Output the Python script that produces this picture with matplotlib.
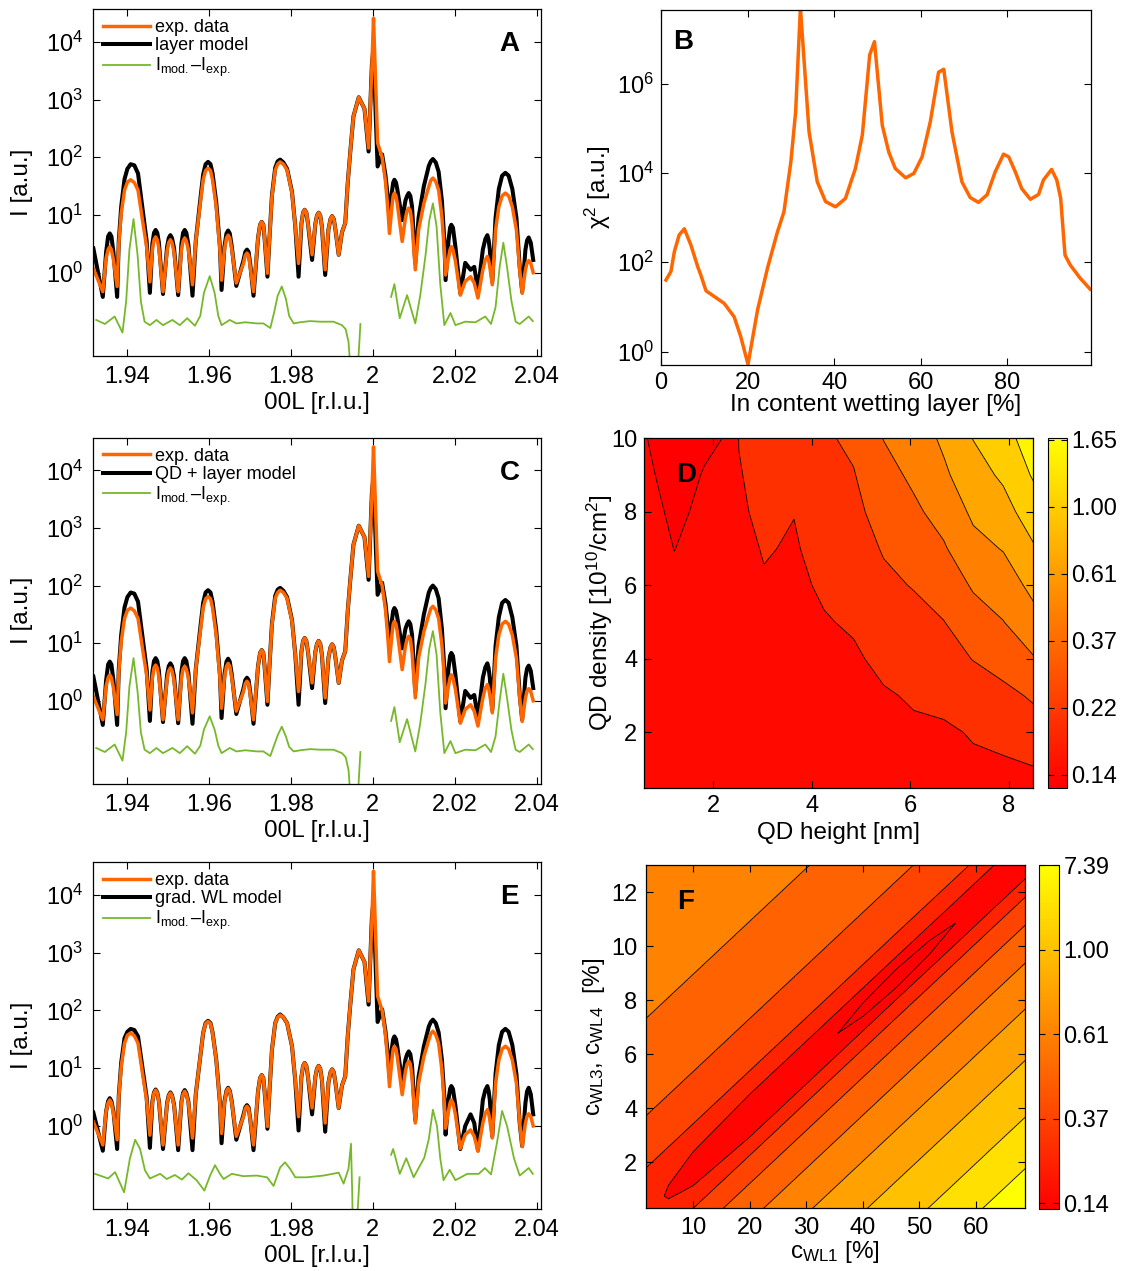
import matplotlib
matplotlib.use('Agg')
from matplotlib import pyplot as plt
from matplotlib import cm
from matplotlib.colors import Normalize
import numpy as np

plt.rcParams['font.family'] = ['Liberation Sans', 'DejaVu Sans']
plt.rcParams['mathtext.fontset'] = 'custom'
plt.rcParams['mathtext.rm'] = 'Liberation Sans'
plt.rcParams['mathtext.it'] = 'Liberation Sans:italic'
plt.rcParams['mathtext.bf'] = 'Liberation Sans:bold'
plt.rcParams['font.size'] = 17

ORANGE = '#ff6600'
GREEN = '#77b82a'
TICK_FS = 17
LABEL_FS = 17.5
nan = np.nan

# ---- 00L scans: log10 of intensity ----
l_scan = [1.9318, 1.9341, 1.9349, 1.9354, 1.9358, 1.9362, 1.9367, 1.9376, 1.9380, 1.9386,
          1.9394, 1.9401, 1.9409, 1.9418, 1.9427, 1.9439, 1.9448, 1.9456, 1.9462, 1.9466,
          1.9470, 1.9474, 1.9478, 1.9488, 1.9498, 1.9502, 1.9506, 1.9510, 1.9515, 1.9525,
          1.9533, 1.9537, 1.9541, 1.9545, 1.9550, 1.9560, 1.9568, 1.9578, 1.9586, 1.9592,
          1.9598, 1.9604, 1.9609, 1.9618, 1.9627, 1.9631, 1.9638, 1.9643, 1.9647, 1.9651,
          1.9656, 1.9667, 1.9684, 1.9689, 1.9693, 1.9697, 1.9701, 1.9709, 1.9720, 1.9725,
          1.9729, 1.9733, 1.9736, 1.9743, 1.9748, 1.9754, 1.9762, 1.9768, 1.9774, 1.9782,
          1.9791, 1.9803, 1.9811, 1.9819, 1.9826, 1.9830, 1.9834, 1.9838, 1.9842, 1.9852,
          1.9860, 1.9864, 1.9868, 1.9872, 1.9876, 1.9884, 1.9892, 1.9897, 1.9901, 1.9905,
          1.9909, 1.9917, 1.9925, 1.9933, 1.9939, 1.9945, 1.9953, 1.9966, 1.9980, 1.9990,
          1.9998, 2.0002, 2.0008, 2.0012, 2.0023, 2.0031, 2.0037, 2.0041, 2.0047, 2.0050,
          2.0053, 2.0057, 2.0060, 2.0072, 2.0080, 2.0084, 2.0088, 2.0092, 2.0096, 2.0104,
          2.0112, 2.0125, 2.0137, 2.0142, 2.0147, 2.0154, 2.0161, 2.0169, 2.0175, 2.0178,
          2.0185, 2.0189, 2.0192, 2.0196, 2.0202, 2.0214, 2.0226, 2.0239, 2.0248, 2.0257,
          2.0269, 2.0275, 2.0280, 2.0283, 2.0286, 2.0292, 2.0300, 2.0308, 2.0316, 2.0324,
          2.0332, 2.0341, 2.0351, 2.0359, 2.0365, 2.0373, 2.0377, 2.0381, 2.0386, 2.0392]

exp_log = [0.07, -0.33, 0.25, 0.40, 0.45, 0.40, 0.22, -0.24, 0.50, 1.03,
           1.43, 1.57, 1.61, 1.56, 1.43, 0.86, 0.45, -0.16, 0.40, 0.57,
           0.62, 0.57, 0.42, -0.33, 0.38, 0.52, 0.57, 0.52, 0.35, -0.33,
           0.40, 0.55, 0.60, 0.55, 0.40, -0.21, 0.55, 1.14, 1.61, 1.77,
           1.81, 1.77, 1.61, 1.14, 0.39, -0.13, 0.40, 0.60, 0.65, 0.60,
           0.40, -0.18, 0.15, 0.30, 0.34, 0.30, 0.10, -0.33, 0.60, 0.83,
           0.88, 0.83, 0.60, -0.01, 0.60, 1.32, 1.78, 1.88, 1.92, 1.88,
           1.78, 1.38, 0.80, 0.16, 0.85, 1.04, 1.09, 1.04, 0.85, 0.31,
           0.85, 0.99, 1.04, 0.99, 0.80, 0.05, 0.75, 0.93, 0.98, 0.93,
           0.75, 0.31, 0.70, 0.86, 1.55, 2.07, 2.71, 3.04, 2.84, 2.16,
           3.57, 4.41, 3.11, 2.25, 2.00, 1.60, 1.10, 0.68, 1.15, 1.33,
           1.38, 1.33, 1.20, 0.54, 0.95, 1.07, 1.12, 1.07, 0.85, 0.05,
           0.74, 1.20, 1.49, 1.60, 1.64, 1.58, 1.43, 0.97, 0.39, -0.04,
           0.25, 0.40, 0.45, 0.40, 0.20, -0.39, -0.15, -0.07, -0.18, -0.44,
           0.05, 0.22, 0.28, 0.22, 0.10, -0.21, 0.74, 1.14, 1.33, 1.38,
           1.33, 1.14, 0.74, 0.05, -0.36, 0.05, 0.17, 0.21, 0.16, 0.00]

layer_log = [0.42, -0.42, 0.35, 0.63, 0.68, 0.63, 0.35, -0.42, 0.55, 1.15,
             1.62, 1.80, 1.88, 1.86, 1.72, 1.05, 0.55, -0.35, 0.50, 0.69,
             0.74, 0.69, 0.52, -0.37, 0.45, 0.60, 0.65, 0.60, 0.42, -0.39,
             0.50, 0.69, 0.74, 0.69, 0.48, -0.40, 0.55, 1.20, 1.70, 1.88,
             1.92, 1.88, 1.72, 1.22, 0.45, -0.30, 0.45, 0.68, 0.73, 0.68,
             0.45, -0.23, 0.20, 0.36, 0.40, 0.36, 0.15, -0.40, 0.60, 0.83,
             0.88, 0.83, 0.60, -0.07, 0.60, 1.34, 1.82, 1.93, 1.96, 1.91,
             1.80, 1.40, 0.80, -0.07, 0.85, 1.04, 1.09, 1.04, 0.85, 0.22,
             0.85, 0.99, 1.04, 0.99, 0.80, -0.04, 0.75, 0.93, 0.98, 0.93,
             0.75, 0.31, 0.70, 0.86, 1.55, 2.07, 2.71, 3.04, 2.84, 2.10,
             3.60, 3.90, 2.60, 1.84, 2.05, 1.70, 1.30, 0.94, 1.40, 1.56,
             1.61, 1.56, 1.45, 0.91, 1.25, 1.33, 1.38, 1.33, 1.15, 0.16,
             0.95, 1.50, 1.85, 1.93, 1.97, 1.91, 1.75, 1.25, 0.55, -0.13,
             0.55, 0.78, 0.83, 0.78, 0.45, -0.36, 0.17, 0.05, 0.10, -0.30,
             0.40, 0.58, 0.65, 0.57, 0.40, -0.16, 0.95, 1.45, 1.68, 1.73,
             1.68, 1.45, 0.95, 0.10, -0.33, 0.40, 0.56, 0.61, 0.52, 0.22]

qd_layer_log = [0.42, -0.42, 0.35, 0.63, 0.68, 0.63, 0.35, -0.42, 0.55, 1.15,
                1.62, 1.80, 1.88, 1.86, 1.72, 1.05, 0.55, -0.35, 0.50, 0.69,
                0.74, 0.69, 0.52, -0.37, 0.45, 0.60, 0.65, 0.60, 0.42, -0.39,
                0.50, 0.69, 0.74, 0.69, 0.48, -0.40, 0.55, 1.20, 1.70, 1.88,
                1.92, 1.88, 1.72, 1.22, 0.45, -0.30, 0.45, 0.68, 0.73, 0.68,
                0.45, -0.23, 0.20, 0.36, 0.40, 0.36, 0.15, -0.40, 0.60, 0.83,
                0.88, 0.83, 0.60, -0.07, 0.60, 1.34, 1.82, 1.93, 1.96, 1.91,
                1.80, 1.40, 0.80, -0.07, 0.85, 1.04, 1.09, 1.04, 0.85, 0.22,
                0.85, 0.99, 1.04, 0.99, 0.80, -0.04, 0.75, 0.93, 0.98, 0.93,
                0.75, 0.31, 0.70, 0.86, 1.55, 2.07, 2.71, 3.04, 2.84, 2.10,
                3.60, 3.90, 2.60, 1.84, 2.05, 1.70, 1.30, 0.94, 1.40, 1.56,
                1.61, 1.56, 1.45, 0.91, 1.25, 1.33, 1.38, 1.33, 1.15, 0.16,
                0.95, 1.50, 1.88, 1.96, 2.00, 1.94, 1.78, 1.25, 0.55, -0.13,
                0.55, 0.78, 0.83, 0.78, 0.45, -0.36, 0.17, 0.05, 0.10, -0.30,
                0.40, 0.58, 0.65, 0.57, 0.40, -0.16, 0.95, 1.45, 1.70, 1.75,
                1.70, 1.45, 0.95, 0.10, -0.33, 0.40, 0.56, 0.61, 0.52, 0.22]

grad_wl_log = [0.23, -0.43, 0.25, 0.43, 0.48, 0.43, 0.25, -0.40, 0.52, 1.10,
               1.52, 1.63, 1.68, 1.66, 1.55, 0.95, 0.50, -0.38, 0.42, 0.58,
               0.63, 0.58, 0.43, -0.40, 0.40, 0.53, 0.58, 0.53, 0.37, -0.42,
               0.42, 0.57, 0.62, 0.57, 0.42, -0.42, 0.55, 1.14, 1.61, 1.78,
               1.82, 1.78, 1.62, 1.15, 0.40, -0.30, 0.42, 0.61, 0.66, 0.61,
               0.42, -0.24, 0.18, 0.32, 0.36, 0.32, 0.12, -0.42, 0.60, 0.83,
               0.88, 0.83, 0.60, -0.05, 0.60, 1.32, 1.78, 1.89, 1.93, 1.88,
               1.78, 1.38, 0.78, -0.08, 0.85, 1.04, 1.09, 1.04, 0.85, 0.20,
               0.85, 0.99, 1.04, 0.99, 0.80, -0.10, 0.75, 0.93, 0.98, 0.93,
               0.75, 0.31, 0.70, 0.86, 1.55, 2.07, 2.71, 3.04, 2.84, 2.10,
               3.60, 3.90, 2.60, 1.80, 2.02, 1.65, 1.25, 0.85, 1.35, 1.50,
               1.55, 1.50, 1.38, 0.75, 1.15, 1.24, 1.29, 1.24, 1.05, 0.10,
               0.85, 1.38, 1.72, 1.80, 1.84, 1.78, 1.62, 1.15, 0.50, -0.15,
               0.45, 0.64, 0.69, 0.64, 0.35, -0.40, 0.00, 0.20, 0.05, -0.42,
               0.45, 0.62, 0.69, 0.61, 0.45, -0.18, 0.90, 1.40, 1.63, 1.68,
               1.63, 1.40, 0.90, 0.05, -0.35, 0.40, 0.60, 0.66, 0.55, 0.20]

# I_mod - I_exp (log10, nan where the difference is negative)
diff_l = [1.9325, 1.9346, 1.9370, 1.9389, 1.9398, 1.9406, 1.9416, 1.9426, 1.9434, 1.9443,
          1.9456, 1.9472, 1.9488, 1.9511, 1.9529, 1.9547, 1.9566, 1.9579, 1.9588, 1.9602,
          1.9614, 1.9623, 1.9631, 1.9651, 1.9667, 1.9689, 1.9717, 1.9733, 1.9750, 1.9759,
          1.9768, 1.9778, 1.9788, 1.9796, 1.9807, 1.9823, 1.9847, 1.9872, 1.9904, 1.9925,
          1.9934, 1.9941, 1.9949, 1.9955, 1.9961, 1.9970, 2.0000, 2.0045, 2.0053, 2.0066,
          2.0084, 2.0104, 2.0116, 2.0129, 2.0138, 2.0147, 2.0156, 2.0165, 2.0175, 2.0190,
          2.0202, 2.0226, 2.0251, 2.0275, 2.0289, 2.0300, 2.0310, 2.0319, 2.0328, 2.0339,
          2.0349, 2.0359, 2.0381, 2.0391]

diff_layer_log = [-0.82, -0.89, -0.76, -1.04, -0.50, 0.40, 0.93, 0.30, -0.50, -0.85,
                  -0.91, -0.82, -0.91, -0.82, -0.91, -0.79, -0.92, -0.75, -0.35, -0.06,
                  -0.35, -0.75, -0.91, -0.82, -0.88, -0.86, -0.88, -0.88, -0.96, -0.70,
                  -0.40, -0.24, -0.45, -0.75, -0.88, -0.86, -0.84, -0.85, -0.85, -0.91,
                  -0.98, -1.20, -2.0, nan, -2.0, -0.89, nan, -0.42, -0.20, -0.79,
                  -0.39, -0.88, -0.40, 0.30, 0.90, 1.20, 0.80, -0.20, -0.91, -0.70,
                  -0.91, -0.85, -0.86, -0.76, -0.89, -0.60, 0.10, 0.52, 0.10, -0.50,
                  -0.85, -0.89, -0.76, -0.84]

diff_qd_log = [-0.82, -0.89, -0.76, -1.04, -0.55, 0.25, 0.74, 0.15, -0.55, -0.85,
               -0.91, -0.82, -0.91, -0.82, -0.91, -0.79, -0.92, -0.78, -0.50, -0.27,
               -0.50, -0.78, -0.91, -0.82, -0.88, -0.86, -0.88, -0.88, -0.96, -0.78,
               -0.60, -0.45, -0.62, -0.80, -0.88, -0.86, -0.84, -0.85, -0.85, -0.91,
               -0.98, -1.20, -2.0, nan, -2.0, -0.89, nan, -0.35, -0.11, -0.72,
               -0.32, -0.88, -0.40, 0.30, 0.90, 1.21, 0.80, -0.20, -0.91, -0.70,
               -0.91, -0.85, -0.86, -0.76, -0.89, -0.62, 0.00, 0.47, 0.05, -0.52,
               -0.85, -0.89, -0.76, -0.84]

diff_grad_l = [1.9322, 1.9354, 1.9371, 1.9393, 1.9407, 1.9420, 1.9432, 1.9444, 1.9456, 1.9481,
               1.9497, 1.9517, 1.9534, 1.9550, 1.9570, 1.9589, 1.9603, 1.9615, 1.9627, 1.9636,
               1.9656, 1.9684, 1.9717, 1.9742, 1.9758, 1.9774, 1.9786, 1.9799, 1.9811, 1.9839,
               1.9880, 1.9917, 1.9929, 1.9941, 1.9947, 1.9950, 1.9952, 1.9955, 1.9959, 1.9968,
               2.0000, 2.0045, 2.0050, 2.0066, 2.0082, 2.0100, 2.0126, 2.0137, 2.0147, 2.0157,
               2.0165, 2.0173, 2.0188, 2.0202, 2.0231, 2.0259, 2.0274, 2.0289, 2.0304, 2.0316,
               2.0328, 2.0345, 2.0359, 2.0381, 2.0391]

diff_grad_log = [-0.83, -0.91, -0.80, -1.15, -0.57, -0.24, -0.40, -0.77, -0.91, -0.83,
                 -0.92, -0.85, -0.93, -0.82, -0.94, -1.12, -0.86, -0.68, -0.83, -0.92,
                 -0.83, -0.87, -0.86, -0.89, -1.04, -0.72, -0.63, -0.75, -0.89, -0.89,
                 -0.86, -0.81, -1.00, -0.74, -0.31, -1.15, -2.0, nan, -2.0, -0.89,
                 nan, -0.50, -0.40, -0.83, -0.56, -0.89, -0.55, -0.23, 0.28, 0.00,
                 -0.56, -0.94, -0.76, -0.94, -0.83, -0.83, -0.73, -0.84, -0.27, 0.26,
                 0.00, -0.56, -0.86, -0.73, -0.83]

# ---- chi^2 versus In content of the wetting layer ----
in_content = [1.15, 2.3, 3.1, 4.2, 5.4, 6.9, 8.5, 9.2, 10.4, 14.6, 16.9, 18.4, 20.1, 22.3,
              24.6, 26.9, 28.4, 30.0, 31.1, 32.2, 34.2, 36.1, 38.0, 40.3, 42.6, 44.9, 46.5,
              48.2, 49.3, 51.1, 52.6, 54.1, 56.5, 58.4, 60.3, 62.2, 64.1, 65.3, 67.2, 68.4,
              69.5, 71.4, 73.3, 75.3, 77.2, 79.1, 80.3, 81.8, 83.3, 85.3, 87.2, 88.3, 90.2,
              91.4, 92.3, 93.3, 94.5, 96.8, 99.1]
chi2_in = [40, 62, 174, 407, 562, 245, 79, 52, 23, 12, 6.0, 2.2, 0.52, 8.5,
           74, 479, 1350, 1.78e4, 2.34e5, 5e7, 8.3e4, 6300, 2290, 1740, 2690, 1.26e4, 7.08e4,
           4.4e6, 8.7e6, 1.17e5, 2.95e4, 1.26e4, 7760, 9770, 2.29e4, 1.41e5, 1.8e6, 2.1e6, 8.3e4, 2.14e4,
           6300, 2820, 2190, 3240, 1.07e4, 2.63e4, 2.29e4, 1.07e4, 4470, 2570, 3310, 6920, 1.2e4,
           6920, 2690, 145, 87, 44, 25]

# ---- ln(chi^2) map over QD height / QD density ----
qd_height = [0.6, 1.21, 1.82, 2.42, 2.52, 3.03, 3.64, 4.25, 4.85, 5.46, 6.07, 6.68, 7.28, 7.89, 8.5]
qd_density = [0.5, 1, 2, 3, 4, 5, 6, 7, 8, 9, 10]
ln_chi2_qd = [  # one list per QD height, density from low to high
    [-1.75, -1.77, -1.80, -1.83, -1.85, -1.87, -1.88, -1.89, -1.92, -1.96, -1.99],
    [-1.70, -1.72, -1.76, -1.80, -1.85, -1.90, -1.96, -2.003, -2.04, -2.07, -2.09],
    [-1.74, -1.75, -1.78, -1.81, -1.84, -1.87, -1.90, -1.93, -1.96, -1.99, -2.03],
    [-1.71, -1.72, -1.75, -1.78, -1.81, -1.84, -1.87, -1.90, -1.92, -1.95, -1.98],
    [-1.71, -1.72, -1.74, -1.76, -1.78, -1.79, -1.77, -1.74, -1.70, -1.64, -1.58],
    [-1.74, -1.75, -1.76, -1.76, -1.74, -1.70, -1.64, -1.57, -1.45, -1.38, -1.32],
    [-1.79, -1.79, -1.79, -1.78, -1.76, -1.73, -1.69, -1.64, -1.59, -1.53, -1.45],
    [-1.80, -1.80, -1.78, -1.75, -1.70, -1.63, -1.54, -1.45, -1.38, -1.32, -1.25],
    [-1.82, -1.81, -1.78, -1.73, -1.66, -1.55, -1.45, -1.38, -1.30, -1.22, -1.13],
    [-1.80, -1.78, -1.72, -1.64, -1.50, -1.38, -1.28, -1.17, -1.04, -0.93, -0.79],
    [-1.78, -1.75, -1.66, -1.56, -1.44, -1.32, -1.18, -1.00, -0.87, -0.73, -0.62],
    [-1.77, -1.74, -1.66, -1.49, -1.33, -1.21, -1.02, -0.84, -0.66, -0.47, -0.33],
    [-1.71, -1.67, -1.57, -1.38, -1.19, -0.96, -0.76, -0.52, -0.33, -0.15, 0.01],
    [-1.70, -1.66, -1.50, -1.31, -1.03, -0.81, -0.60, -0.38, -0.14, 0.06, 0.32],
    [-1.68, -1.62, -1.38, -1.15, -0.83, -0.53, -0.30, -0.04, 0.20, 0.44, 0.51],
]
qd_levels = [-2.1, -2.0, -1.6, -1.2, -0.8, -0.4, 0.0, 0.4, 0.52]
qd_range = (-2.095, 0.51)

# ---- chi^2 map over c_WL1 / c_WL3,4 (sampled across the valley) ----
c_wl1 = [-2, 5, 10, 20, 30, 35.4, 46, 56.6, 63, 72]
valley_wl34 = [-0.59, 0.78, 1.76, 3.72, 5.68, 6.74, 8.82, 10.89, 12.15, 13.91]
offset_wl34 = [-16, -11.5, -9.6, -7.5, -5.6, -3.9, -2.5, -1.46, -0.78, -0.25, 0, 0.25, 0.8,
               1.67, 3.6, 7.2, 16]
chi2_wl = [  # one list per c_WL1 column, offset from low to high
    [1.30, 1.0, 0.875, 0.75, 0.625, 0.5, 0.375, 0.25, 0.21, 0.20, 0.19, 0.20, 0.21, 0.25, 0.375, 0.5, 0.59],
    [1.30, 1.0, 0.875, 0.75, 0.625, 0.5, 0.375, 0.25, 0.17, 0.13, 0.124, 0.13, 0.17, 0.25, 0.375, 0.5, 0.59],
    [1.30, 1.0, 0.875, 0.75, 0.625, 0.5, 0.375, 0.25, 0.14, 0.09, 0.07, 0.09, 0.14, 0.25, 0.375, 0.5, 0.59],
    [1.30, 1.0, 0.875, 0.75, 0.625, 0.5, 0.375, 0.25, 0.125, 0.06, 0.04, 0.06, 0.125, 0.25, 0.375, 0.5, 0.59],
    [1.30, 1.0, 0.875, 0.75, 0.625, 0.5, 0.375, 0.25, 0.125, 0.04, 0.02, 0.04, 0.125, 0.25, 0.375, 0.5, 0.59],
    [1.30, 1.0, 0.875, 0.75, 0.625, 0.5, 0.375, 0.25, 0.125, 0.02, 0.001, 0.02, 0.125, 0.25, 0.375, 0.5, 0.59],
    [1.30, 1.0, 0.875, 0.75, 0.625, 0.5, 0.375, 0.25, 0.125, -0.025, -0.05, -0.025, 0.125, 0.25, 0.375, 0.5, 0.59],
    [1.30, 1.0, 0.875, 0.75, 0.625, 0.5, 0.375, 0.25, 0.125, 0.02, 0.001, 0.02, 0.125, 0.25, 0.375, 0.5, 0.59],
    [1.30, 1.0, 0.875, 0.75, 0.625, 0.5, 0.375, 0.25, 0.125, 0.04, 0.02, 0.04, 0.125, 0.25, 0.375, 0.5, 0.59],
    [1.30, 1.0, 0.875, 0.75, 0.625, 0.5, 0.375, 0.25, 0.125, 0.05, 0.03, 0.05, 0.125, 0.25, 0.375, 0.5, 0.59],
]
wl_levels = [-0.06, 0, 0.125, 0.25, 0.375, 0.5, 0.625, 0.75, 0.875, 1.0, 1.35]
wl_range = (-0.018, 1.0)
wl_ticks = [0, 0.25, 0.5, 0.75, 1.0]
wl_tick_labels = ['0.14', '0.37', '0.61', '1.00', '7.39']


def box_ticks(ax, pad=5):
    ax.tick_params(direction='in', top=True, right=True, length=5, width=0.8,
                   which='major', labelsize=TICK_FS, pad=pad)
    ax.tick_params(which='minor', length=0)
    for s in ax.spines.values():
        s.set_linewidth(0.9)


def panel_letter(ax, letter, x, y):
    ax.text(x, y, letter, transform=ax.transAxes, fontsize=20, fontweight='bold',
            ha='center', va='center')


def xrd_panel(ax, model_log, model_label, dl, dlog, letter):
    L = np.array(l_scan)
    hm, = ax.plot(L, 10 ** np.array(model_log), color='k', lw=2.9, solid_joinstyle='round')
    he, = ax.plot(L, 10 ** np.array(exp_log), color=ORANGE, lw=2.5, solid_joinstyle='round')
    hd, = ax.plot(dl, 10 ** np.array(dlog), color=GREEN, lw=1.3)
    ax.set_yscale('log')
    ax.set_xlim(1.9317, 2.0411)
    ax.set_ylim(10 ** -1.445, 10 ** 4.57)
    ax.set_yticks([1, 10, 100, 1e3, 1e4])
    ax.set_xticks([1.94, 1.96, 1.98, 2.0, 2.02, 2.04])
    ax.set_xticklabels(['1.94', '1.96', '1.98', '2', '2.02', '2.04'])
    ax.set_xlabel('00L [r.l.u.]', fontsize=LABEL_FS, labelpad=3)
    ax.set_ylabel('I [a.u.]', fontsize=LABEL_FS, labelpad=9)
    box_ticks(ax, pad=7)
    ax.legend([he, hm, hd], ['exp. data', model_label,
                             r'I$_{\rm mod.}$–I$_{\rm exp.}$'],
              loc='upper left', frameon=False, fontsize=13, handlelength=2.6,
              handletextpad=0.3, labelspacing=0.08, borderaxespad=0.15)
    panel_letter(ax, letter, 0.93, 0.898)


fig = plt.figure(figsize=(11.38, 12.71), dpi=100)

axA = fig.add_axes([0.0817, 0.7199, 0.3937, 0.2730])
axC = fig.add_axes([0.0817, 0.3832, 0.3937, 0.2725])
axE = fig.add_axes([0.0817, 0.0485, 0.3937, 0.2733])
xrd_panel(axA, layer_log, 'layer model', diff_l, diff_layer_log, 'A')
xrd_panel(axC, qd_layer_log, 'QD + layer model', diff_l, diff_qd_log, 'C')
xrd_panel(axE, grad_wl_log, 'grad. WL model', diff_grad_l, diff_grad_log, 'E')

# B: chi^2 scan
axB = fig.add_axes([0.5808, 0.7128, 0.3779, 0.2795])
axB.plot(in_content, chi2_in, color=ORANGE, lw=2.5)
axB.set_yscale('log')
axB.set_xlim(0, 99.3)
axB.set_ylim(0.5, 4.5e7)
axB.set_yticks([1, 1e2, 1e4, 1e6])
axB.set_xticks([0, 20, 40, 60, 80])
axB.set_xlabel('In content wetting layer [%]', fontsize=LABEL_FS, labelpad=0)
axB.set_ylabel(r'χ$^2$ [a.u.]', fontsize=LABEL_FS, labelpad=3)
box_ticks(axB)
panel_letter(axB, 'B', 0.051, 0.909)

# D: QD height / density map
axD = fig.add_axes([0.5662, 0.3803, 0.3418, 0.2749])
Zqd = np.array(ln_chi2_qd).T
qd_norm = Normalize(*qd_range)
qd_colors = [cm.autumn(qd_norm(max(v, qd_range[0]))) for v in qd_levels[:-1]]
axD.contourf(qd_height, qd_density, Zqd, levels=qd_levels, colors=qd_colors)
axD.contour(qd_height, qd_density, Zqd, levels=qd_levels[1:-1], colors='k',
            linewidths=0.6, linestyles='solid')
axD.set_xlim(0.6, 8.5)
axD.set_ylim(0.5, 10)
axD.set_xticks([2, 4, 6, 8])
axD.set_yticks([2, 4, 6, 8, 10])
axD.set_xlabel('QD height [nm]', fontsize=LABEL_FS, labelpad=4)
axD.set_ylabel(r'QD density [10$^{10}$/cm$^2$]', fontsize=LABEL_FS, labelpad=-3)
box_ticks(axD)
panel_letter(axD, 'D', 0.107, 0.895)

caxD = fig.add_axes([0.9212, 0.3803, 0.0167, 0.2749])
cbD = fig.colorbar(cm.ScalarMappable(norm=qd_norm, cmap='autumn'), cax=caxD)
qd_ticks = [-2, -1.5, -1, -0.5, 0, 0.5]
cbD.set_ticks(qd_ticks)
cbD.set_ticklabels([f'{np.exp(t):.2f}' for t in qd_ticks])
cbD.ax.tick_params(direction='in', left=True, right=True, length=4, width=0.8,
                   labelsize=TICK_FS, pad=3)
cbD.ax.minorticks_off()

# F: c_WL1 / c_WL3,4 map
axF = fig.add_axes([0.5674, 0.0493, 0.3333, 0.2701])
Xw = np.tile(np.array(c_wl1), (len(offset_wl34), 1))
Yw = np.array(valley_wl34)[None, :] + np.array(offset_wl34)[:, None]
Zw = np.array(chi2_wl).T
wl_norm = Normalize(*wl_range)
wl_colors = [cm.autumn(wl_norm(max(v, wl_range[0]))) for v in wl_levels[:-1]]
axF.contourf(Xw, Yw, Zw, levels=wl_levels, colors=wl_colors)
axF.contour(Xw, Yw, Zw, levels=wl_levels[1:-1], colors='k', linewidths=0.6,
            linestyles='solid')
axF.set_xlim(1.6, 68.7)
axF.set_ylim(0.3, 13.0)
axF.set_xticks([10, 20, 30, 40, 50, 60])
axF.set_yticks([2, 4, 6, 8, 10, 12])
axF.set_xlabel(r'c$_{\rm WL1}$ [%]', fontsize=LABEL_FS, labelpad=0)
axF.set_ylabel(r'c$_{\rm WL3}$, c$_{\rm WL4}$  [%]', fontsize=LABEL_FS, labelpad=3)
box_ticks(axF, pad=6)
panel_letter(axF, 'F', 0.106, 0.892)

caxF = fig.add_axes([0.9133, 0.0485, 0.0176, 0.2706])
cbF = fig.colorbar(cm.ScalarMappable(norm=wl_norm, cmap='autumn'), cax=caxF)
cbF.set_ticks(wl_ticks)
cbF.set_ticklabels(wl_tick_labels)
cbF.ax.tick_params(direction='in', left=True, right=True, length=4, width=0.8,
                   labelsize=TICK_FS, pad=3)
cbF.ax.minorticks_off()

plt.savefig('out.png', dpi=100)
